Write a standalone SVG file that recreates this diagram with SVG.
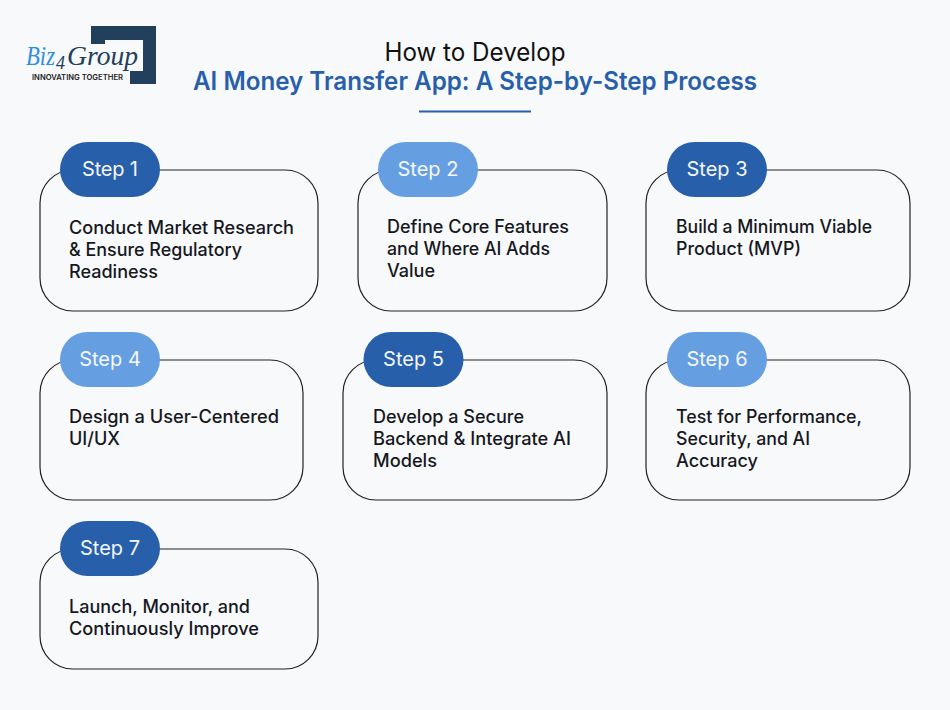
<svg xmlns="http://www.w3.org/2000/svg" width="950" height="710" viewBox="0 0 950 710">
<style>
text{font-family:"Inter","Liberation Sans",sans-serif}
.card{fill:#f8f9fb;stroke:#222;stroke-width:1.2}
.dark{fill:#285fab}.light{fill:#659fe2}
.step{fill:#f4f7fc;font-size:20px;text-anchor:middle;font-weight:400}
.body{fill:#16181d;font-size:18px;font-weight:500}
.title{font-size:25px;text-anchor:middle}
.brand{font-family:"Liberation Serif",serif;font-style:italic}
</style>
<rect width="950" height="710" fill="#f8f9fb"/>
<g id="logo">
<path d="M91 26H156V84H130V71H143V40H105V44H91Z" fill="#223f5c"/>
<text class="brand" x="26" y="65" font-size="28" fill="#2f8fdc" textLength="29" lengthAdjust="spacingAndGlyphs">Biz</text>
<text class="brand" x="56" y="69" font-size="18" fill="#223f5c">4</text>
<text class="brand" x="67" y="65" font-size="28" fill="#223f5c" textLength="71" lengthAdjust="spacingAndGlyphs">Group</text>
<text x="32" y="80" font-size="7.600" font-weight="600" fill="#222" textLength="91" lengthAdjust="spacingAndGlyphs">INNOVATING TOGETHER</text>
</g>
<g id="title">
<text class="title" x="475" y="61" fill="#111" textLength="181" lengthAdjust="spacingAndGlyphs">How to Develop</text>
<text class="title" x="475" y="90" fill="#285fab" font-weight="600" textLength="564" lengthAdjust="spacingAndGlyphs">AI Money Transfer App: A Step-by-Step Process</text>
<rect x="419" y="110.500" width="112" height="2" fill="#285fab"/>
</g>
<g id="step1"><rect class="card" x="40" y="170" width="278" height="141" rx="33"/><rect class="dark" x="60" y="142" width="100" height="55" rx="27.500"/><text class="step" x="110" y="176" textLength="56">Step 1</text>
<text class="body"><tspan x="69" y="234" textLength="225" lengthAdjust="spacingAndGlyphs">Conduct Market Research</tspan><tspan x="69" y="256" textLength="173" lengthAdjust="spacingAndGlyphs">&amp; Ensure Regulatory</tspan><tspan x="69" y="278" textLength="89" lengthAdjust="spacingAndGlyphs">Readiness</tspan></text></g>
<g id="step2"><rect class="card" x="358" y="170" width="249" height="141" rx="33"/><rect class="light" x="378" y="142" width="100" height="55" rx="27.500"/><text class="step" x="428" y="176">Step 2</text>
<text class="body"><tspan x="387" y="233" textLength="182" lengthAdjust="spacingAndGlyphs">Define Core Features</tspan><tspan x="387" y="255" textLength="163" lengthAdjust="spacingAndGlyphs">and Where AI Adds</tspan><tspan x="387" y="277" textLength="48" lengthAdjust="spacingAndGlyphs">Value</tspan></text></g>
<g id="step3"><rect class="card" x="646" y="170" width="264" height="141" rx="33"/><rect class="dark" x="667" y="142" width="100" height="55" rx="27.500"/><text class="step" x="717" y="176">Step 3</text>
<text class="body"><tspan x="676" y="233" textLength="196" lengthAdjust="spacingAndGlyphs">Build a Minimum Viable</tspan><tspan x="676" y="255" textLength="125" lengthAdjust="spacingAndGlyphs">Product (MVP)</tspan></text></g>
<g id="step4"><rect class="card" x="40" y="360" width="263" height="140" rx="33"/><rect class="light" x="60" y="332" width="100" height="55" rx="27.500"/><text class="step" x="110" y="366">Step 4</text>
<text class="body"><tspan x="69" y="423" textLength="210" lengthAdjust="spacingAndGlyphs">Design a User-Centered</tspan><tspan x="69" y="445" textLength="51" lengthAdjust="spacingAndGlyphs">UI/UX</tspan></text></g>
<g id="step5"><rect class="card" x="343" y="360" width="264" height="140" rx="33"/><rect class="dark" x="363.500" y="332" width="100" height="55" rx="27.500"/><text class="step" x="413.500" y="366">Step 5</text>
<text class="body"><tspan x="373" y="423" textLength="151" lengthAdjust="spacingAndGlyphs">Develop a Secure</tspan><tspan x="373" y="445" textLength="198" lengthAdjust="spacingAndGlyphs">Backend &amp; Integrate AI</tspan><tspan x="373" y="467" textLength="64" lengthAdjust="spacingAndGlyphs">Models</tspan></text></g>
<g id="step6"><rect class="card" x="646" y="360" width="264" height="140" rx="33"/><rect class="light" x="667" y="332" width="100" height="55" rx="27.500"/><text class="step" x="717" y="366">Step 6</text>
<text class="body"><tspan x="676" y="423" textLength="186" lengthAdjust="spacingAndGlyphs">Test for Performance,</tspan><tspan x="676" y="445" textLength="134" lengthAdjust="spacingAndGlyphs">Security, and AI</tspan><tspan x="676" y="467" textLength="82" lengthAdjust="spacingAndGlyphs">Accuracy</tspan></text></g>
<g id="step7"><rect class="card" x="40" y="549" width="278" height="120" rx="33"/><rect class="dark" x="60" y="521" width="100" height="55" rx="27.500"/><text class="step" x="110" y="555">Step 7</text>
<text class="body"><tspan x="69" y="613" textLength="181" lengthAdjust="spacingAndGlyphs">Launch, Monitor, and</tspan><tspan x="69" y="635" textLength="190" lengthAdjust="spacingAndGlyphs">Continuously Improve</tspan></text></g>
<g id="connectors"/>
</svg>
